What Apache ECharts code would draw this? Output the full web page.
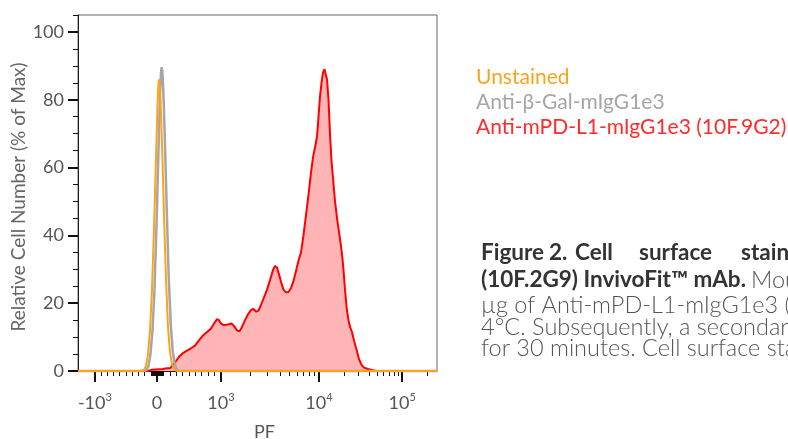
<!DOCTYPE html>
<html><head><meta charset="utf-8">
<script src="https://cdn.jsdelivr.net/npm/echarts@6/dist/echarts.min.js"></script>
<style>html,body{margin:0;padding:0;background:#fff}#c{width:788px;height:439px}</style>
</head><body><div id="c"></div>
<script>
// Biexponential (logicle) display scale: x values are display units 0..1000
const tickValues = [-1000, 0, 1000, 10000, 100000];
const tickDisplay = [47, 220, 398, 671, 903];
const tickLabels = ['{b|-10}{s|3}', '{b|0}', '{b|10}{s|3}', '{b|10}{s|4}', '{b|10}{s|5}'];
const minorTickValues = [-900,-800,-700,-600,-500,-400,-300,-200,-100,-90,-80,-70,-60,-50,-40,-30,-20,-10,
  10,20,30,40,50,60,70,80,90,100,200,300,400,500,600,700,800,900,
  2000,3000,4000,5000,6000,7000,8000,9000,20000,30000,40000,50000,60000,70000,80000,90000,200000];
const yMajor = [0,20,40,60,80,100];
const yMinor = [5,10,15,25,30,35,45,50,55,65,70,75,85,90,95,105];

const seriesNames = ['Unstained','Anti-β-Gal-mIgG1e3','Anti-mPD-L1-mIgG1e3 (10F.9G2)'];
const unstainedX = [0,172.7,183.8,189.4,195.0,200.6,206.1,211.7,217.3,221.4,224.2,225.6,227.0,229.8,234.0,239.6,245.1,250.7,256.3,261.8,267.4,275.8,1000];
const unstainedY = [0,0,0.3,1.5,5,12,24,42,63,78,85,86,85,80,67,46,27,13,5.5,2,0.5,0,0];
const betaGalX = [0,185,190.8,196.4,201.9,207.5,213.1,218.7,224.2,228.4,231.2,233.1,234.8,237.6,241.5,247.1,252.6,258.2,263.8,269.4,274.9,283.3,1000];
const betaGalY = [0,0,0.3,1.5,5,12,24,43,65,81,88,89.6,88.5,83,70,48,28,14,6,2,0.5,0,0];
const pdl1X = [0,195.0,206.1,236.8,247.9,256.3,261.8,270.2,281.3,292.5,303.6,314.8,325.9,337.0,348.2,359.3,370.5,378.8,387.2,392.8,398.3,406.7,417.8,427.6,434.5,442.9,449.9,456.8,465.2,473.5,481.9,488.9,495.8,502.8,509.7,518.1,526.5,534.8,543.2,548.7,554.3,559.9,565.5,572.4,579.4,586.3,593.3,600.3,607.2,614.2,621.2,628.1,635.1,642.1,649.0,654.6,660.2,665.7,669.9,674.1,678.3,682.4,686.6,689.4,693.6,697.8,701.9,706.1,710.3,715.9,722.8,729.8,735.4,739.6,743.7,748.5,753.5,757.7,763.2,768.8,775.8,782.7,789.7,796.7,807.8,818.9,830.1,1000];
const pdl1Y = [0,0,0.4,0.6,0.8,0.8,1.5,2.5,4.2,5.3,6,6.7,7.5,9,10.5,11.5,12.5,14,15.3,15,14,13.5,13.7,14,13.3,12,11.7,13,15,16.7,18,18.3,17.5,17.8,19.5,21.7,24,26.8,29.8,31,30.5,28.5,26.3,24,23.2,23.3,24.5,26.5,29.5,32.5,35,40,46,52,58.5,63,66,69,75,81,85,88,89,88.5,86,80,70,62,57,50,44,39,34.5,29.8,24,18.5,15,13,11.5,9,6.3,3.5,1.8,1.0,0.6,0.3,0,0];

function toDisplay(v){
  if (v <= 0) return tickDisplay[1] + v*(tickDisplay[1]-tickDisplay[0])/1000;
  if (v <= 1000) return tickDisplay[1] + v*(tickDisplay[2]-tickDisplay[1])/1000;
  if (v <= 10000) return tickDisplay[2] + Math.log10(v/1000)*(tickDisplay[3]-tickDisplay[2]);
  return tickDisplay[3] + Math.log10(v/10000)*(tickDisplay[4]-tickDisplay[3]);
}
const zip = (xs, ys) => xs.map((x,i)=>[x, ys[i]]);
const FONT = 'Lato';
const REG = '300 23.5px Lato';
const BOLD = 'bold 22.5px Lato';
const chart = echarts.init(document.getElementById('c'), null, {renderer:'canvas'});
chart.setOption({
  animation:false,
  backgroundColor:'#fff',
  grid:{left:78, top:15, width:359, height:356, show:true, borderColor:'#666', borderWidth:1,
        backgroundColor:'transparent', outerBoundsMode:'none', containLabel:false},
  xAxis:[{
    type:'value', min:0, max:1000, position:'bottom',
    name:'PF', nameLocation:'middle', nameGap:52,
    nameTextStyle:{fontFamily:FONT, fontSize:18, color:'#555', padding:[0,0,0,14]},
    axisLine:{show:true, onZero:false, lineStyle:{color:'#222', width:1}},
    axisTick:{show:true, customValues:tickDisplay, length:11, lineStyle:{color:'#111', width:2}},
    axisLabel:{show:true, customValues:tickDisplay, margin:21,
      formatter:(v)=>{ let i = tickDisplay.indexOf(v); return i>=0 ? tickLabels[i] : ''; },
      rich:{b:{fontFamily:FONT, fontSize:18, color:'#555', lineHeight:22}, s:{fontFamily:FONT, fontSize:11, color:'#555', verticalAlign:'top', lineHeight:14}}},
    splitLine:{show:false}
  },{
    type:'value', min:0, max:1000, position:'bottom', gridIndex:0,
    axisLine:{show:false}, axisLabel:{show:false}, splitLine:{show:false},
    axisTick:{show:true, customValues:minorTickValues.map(toDisplay), length:5, lineStyle:{color:'#111', width:1}}
  }],
  yAxis:[{
    type:'value', min:0, max:105,
    name:'Relative Cell Number (% of Max)', nameLocation:'middle', nameGap:47,
    nameTextStyle:{fontFamily:FONT, fontSize:19, color:'#666', padding:[0,0,0,-8]},
    axisLine:{show:true, lineStyle:{color:'#222', width:1}},
    axisTick:{show:true, customValues:yMajor, length:10, lineStyle:{color:'#111', width:2}},
    axisLabel:{show:true, customValues:yMajor, margin:14, fontFamily:FONT, fontSize:18, color:'#555'},
    splitLine:{show:false}
  },{
    type:'value', min:0, max:105, position:'left',
    axisLine:{show:false}, axisLabel:{show:false}, splitLine:{show:false},
    axisTick:{show:true, customValues:yMinor, length:5, lineStyle:{color:'#111', width:1}}
  }],
  legend:{
    orient:'vertical', left:466, top:61, itemWidth:0, itemHeight:0, itemGap:3, icon:'none',
    selectedMode:false,
    textStyle:{fontFamily:FONT, fontSize:21, lineHeight:22},
    data:[
      {name:seriesNames[0], textStyle:{color:'#f7a51e'}},
      {name:seriesNames[1], textStyle:{color:'#a6a6a6'}},
      {name:seriesNames[2], textStyle:{color:'#ff2a2a'}}
    ]
  },
  series:[
    {name:seriesNames[2], type:'line', data:zip(pdl1X,pdl1Y), symbol:'none', clip:false, z:2,
     lineStyle:{color:'#ff0000', width:2}, itemStyle:{color:'#ff0000'}, areaStyle:{color:'#ffb5b5', opacity:1}},
    {name:seriesNames[1], type:'line', data:zip(betaGalX,betaGalY), symbol:'none', clip:false, z:3,
     lineStyle:{color:'#a6a6a6', width:2.5}, itemStyle:{color:'#a6a6a6'}},
    {name:seriesNames[0], type:'line', data:zip(unstainedX,unstainedY), symbol:'none', clip:false, z:4,
     lineStyle:{color:'#ffa31a', width:2}, itemStyle:{color:'#ffa31a'}}
  ],
  graphic:[
    {type:'text', x:481, y:253, style:{text:'Figure', font:BOLD, fill:'#333', verticalAlign:'middle'}},
    {type:'text', x:549, y:253, style:{text:'2.', font:BOLD, fill:'#333', verticalAlign:'middle'}},
    {type:'text', x:575, y:253, style:{text:'Cell', font:BOLD, fill:'#333', verticalAlign:'middle'}},
    {type:'text', x:639, y:253, style:{text:'surface', font:BOLD, fill:'#333', verticalAlign:'middle'}},
    {type:'text', x:741, y:253, style:{text:'staining', font:BOLD, fill:'#333', verticalAlign:'middle'}},
    {type:'text', x:481, y:280, style:{text:'(10F.2G9) InvivoFit™ mAb.', font:BOLD, fill:'#333', verticalAlign:'middle'}},
    {type:'text', x:751, y:280, style:{text:'Mouse', font:REG, fill:'#555', verticalAlign:'middle'}},
    {type:'text', x:481, y:305, style:{text:'µg of Anti-mPD-L1-mIgG1e3 (10F.9G2)', font:REG, fill:'#555', verticalAlign:'middle'}},
    {type:'text', x:481, y:327, style:{text:'4°C. Subsequently, a secondary antibody', font:REG, fill:'#555', verticalAlign:'middle'}},
    {type:'text', x:481, y:348, style:{text:'for 30 minutes. Cell surface staining', font:REG, fill:'#555', verticalAlign:'middle'}}
  ]
});
</script></body></html>
